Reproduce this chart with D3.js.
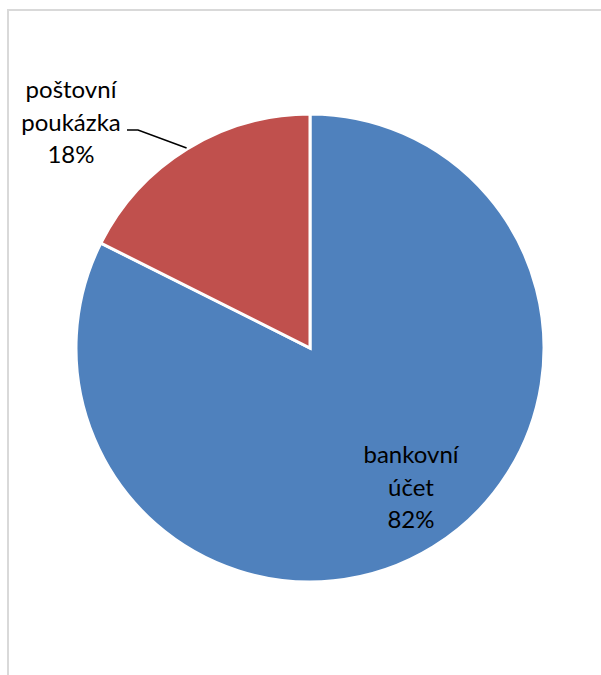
<!DOCTYPE html>
<html>
<head>
<meta charset="utf-8">
<script src="https://cdn.jsdelivr.net/npm/d3@7"></script>
<style>
  html, body { margin: 0; padding: 0; background: #fff; }
  svg { display: block; }
</style>
</head>
<body>
<svg id="chart" width="601" height="675"></svg>
<script>
const categories = ["bankovní účet", "poštovní poukázka"];
const labelLines = [["bankovní", "účet"], ["poštovní", "poukázka"]];
const values = [82.4, 17.6];
const colors = ["#4F81BD", "#C0504D"];

const svg = d3.select("#chart");
const W = 601, H = 675;

// chart area border
svg.append("rect")
  .attr("x", 8).attr("y", 10)
  .attr("width", W + 10).attr("height", H + 10)
  .attr("fill", "#fff")
  .attr("stroke", "#d9d9d9")
  .attr("stroke-width", 2);

const cx = 310, cy = 348, r = 234;
const g = svg.append("g").attr("transform", `translate(${cx},${cy})`);

const pie = d3.pie().sort(null).value(d => d)(values);
const arc = d3.arc().innerRadius(0).outerRadius(r);
const total = d3.sum(values);
const fmt = v => Math.round(v / total * 100) + "%";

g.selectAll("path.slice")
  .data(pie)
  .join("path")
  .attr("class", "slice")
  .attr("d", arc)
  .attr("fill", (d, i) => colors[i])
  .attr("stroke", "#fff")
  .attr("stroke-width", 3)
  .attr("stroke-linejoin", "miter");

const font = "Lato, 'Open Sans', sans-serif";
const fs = 24;
const lh = 32.5;

// label for bankovní účet (inside)
{
  const lines = [...labelLines[0], fmt(values[0])];
  const t = svg.append("text")
    .attr("font-family", font).attr("font-size", fs)
    .attr("fill", "#000").attr("text-anchor", "middle");
  lines.forEach((s, k) => {
    t.append("tspan").attr("x", 411).attr("y", 463 + k * lh).text(s);
  });
}

// label for poštovní poukázka (outside with leader line)
{
  const lines = [...labelLines[1], fmt(values[1])];
  const t = svg.append("text")
    .attr("font-family", font).attr("font-size", fs)
    .attr("fill", "#000").attr("text-anchor", "middle");
  lines.forEach((s, k) => {
    t.append("tspan").attr("x", 71).attr("y", 98 + k * lh).text(s);
  });
  const d = pie[1];
  const mid = (d.startAngle + d.endAngle) / 2;
  const ex = cx + Math.sin(mid) * (r + 1);
  const ey = cy - Math.cos(mid) * (r + 1);
  svg.append("polyline")
    .attr("points", `127,130 138,130 ${ex},${ey}`)
    .attr("fill", "none")
    .attr("stroke", "#000")
    .attr("stroke-width", 1.5);
}
</script>
</body>
</html>
